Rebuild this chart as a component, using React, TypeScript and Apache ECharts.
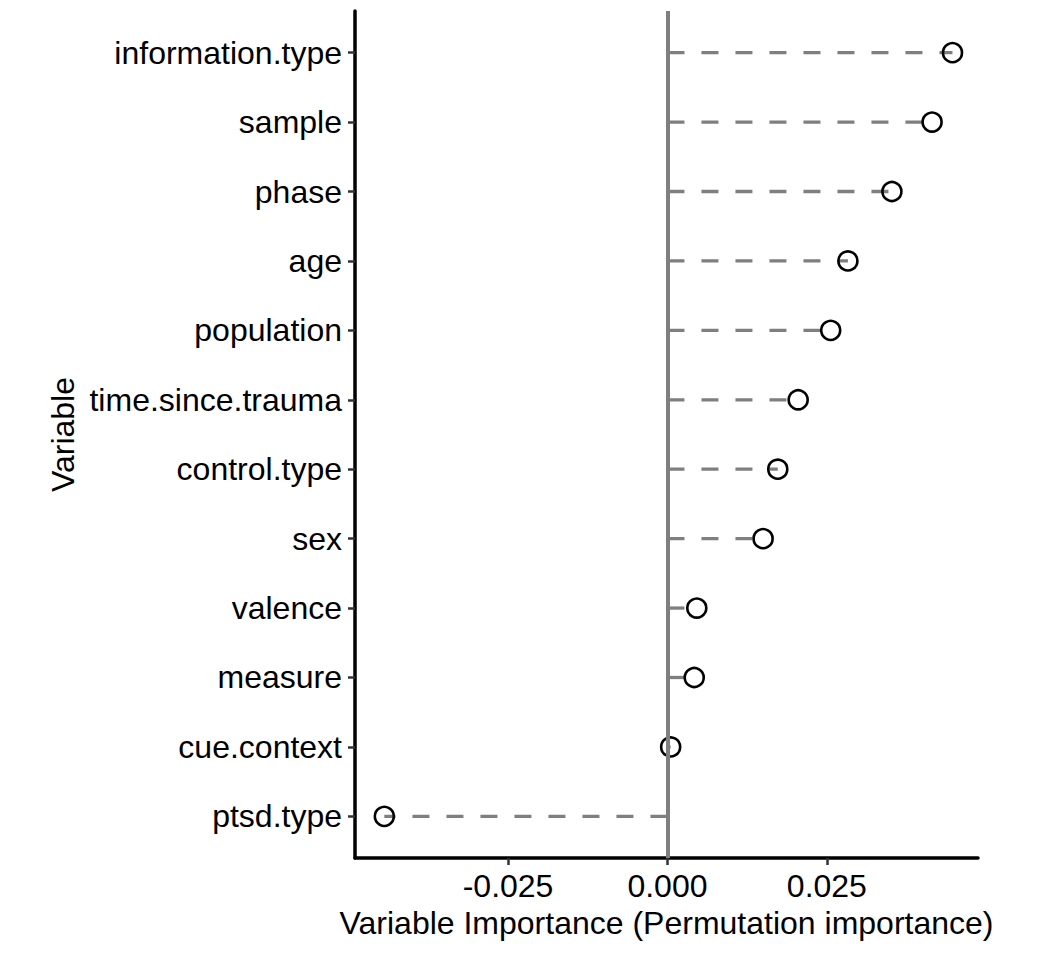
import React, { useEffect, useRef } from "react";
import * as echarts from "echarts";

const categories = [
  "information.type",
  "sample",
  "phase",
  "age",
  "population",
  "time.since.trauma",
  "control.type",
  "sex",
  "valence",
  "measure",
  "cue.context",
  "ptsd.type",
];

const importance = [
  0.0447, 0.0415, 0.0352, 0.0283, 0.0256, 0.0205, 0.0173, 0.015, 0.0046,
  0.0042, 0.0005, -0.0444,
];

const xTicks = [-0.025, 0, 0.025];

const FONT = "'Liberation Sans', Arial, Helvetica, sans-serif";

export default function App() {
  const ref = useRef<HTMLDivElement>(null);

  useEffect(() => {
    if (!ref.current) return;
    const chart = echarts.init(ref.current, null, { renderer: "svg" });
    const points = importance.map((v, i) => [v, i]);
    const yIdx = categories.map((_, i) => i);

    chart.setOption({
      animation: false,
      backgroundColor: "#ffffff",
      grid: { left: 355, right: 74, top: 11, bottom: 98, containLabel: false },
      xAxis: {
        type: "value",
        min: -0.049,
        max: 0.0487,
        name: "Variable Importance (Permutation importance)",
        nameLocation: "middle",
        nameGap: 45,
        nameTextStyle: { fontFamily: FONT, fontSize: 32, color: "#000" },
        axisLine: { show: true, onZero: false, lineStyle: { color: "#000", width: 3.5 } },
        axisTick: {
          show: true,
          length: 7,
          customValues: xTicks,
          lineStyle: { color: "#333", width: 2.5 },
        },
        axisLabel: {
          customValues: xTicks,
          margin: 12,
          fontFamily: FONT,
          fontSize: 32,
          color: "#000",
          formatter: (v: number) => v.toFixed(3),
        },
        splitLine: { show: false },
      },
      yAxis: {
        type: "value",
        inverse: true,
        min: -0.6,
        max: categories.length - 1 + 0.6,
        name: "Variable",
        nameLocation: "middle",
        nameGap: 275,
        nameTextStyle: { fontFamily: FONT, fontSize: 32, color: "#000" },
        axisLine: { show: true, onZero: false, lineStyle: { color: "#000", width: 3.5 } },
        axisTick: {
          show: true,
          length: 7,
          customValues: yIdx,
          lineStyle: { color: "#333", width: 2.5 },
        },
        axisLabel: {
          customValues: yIdx,
          margin: 13,
          fontFamily: FONT,
          fontSize: 32,
          color: "#000",
          formatter: (v: number) => categories[Math.round(v)] ?? "",
        },
        splitLine: { show: false },
      },
      series: [
        {
          type: "custom",
          data: points,
          encode: { x: 0, y: 1 },
          z: 2,
          renderItem: (_params: any, api: any) => {
            const v = api.value(0);
            const idx = api.value(1);
            const p0 = api.coord([0, idx]);
            const p1 = api.coord([v, idx]);
            return {
              type: "line",
              shape: { x1: p0[0], y1: p0[1], x2: p1[0], y2: p1[1] },
              style: {
                stroke: "#7f7f7f",
                lineWidth: 3.3,
                lineDash: [17, 17],
                lineDashOffset: 0,
              },
            };
          },
          markLine: {
            silent: true,
            symbol: ["none", "none"],
            label: { show: false },
            lineStyle: { color: "#7f7f7f", width: 4, type: "solid" },
            data: [{ xAxis: 0 }],
          },
        },
        {
          type: "scatter",
          data: points,
          z: 3,
          symbol: "circle",
          symbolSize: 19,
          itemStyle: {
            color: "rgba(0,0,0,0)",
            borderColor: "#000",
            borderWidth: 2.6,
            opacity: 1,
          },
        },
      ],
    });

    return () => chart.dispose();
  }, []);

  return (
    <div
      ref={ref}
      style={{ position: "fixed", left: 0, top: 0, width: 1052, height: 956, background: "#fff" }}
    />
  );
}
